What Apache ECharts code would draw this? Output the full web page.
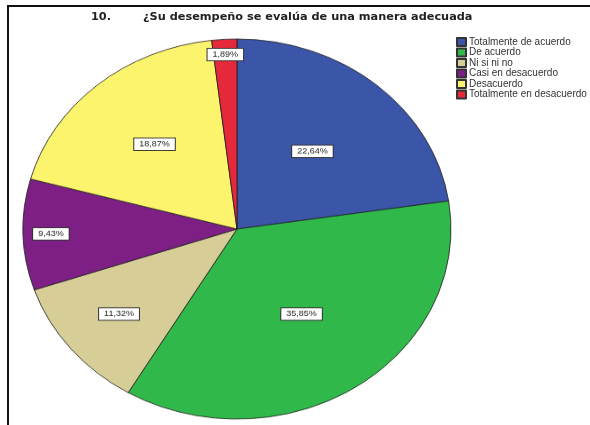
<!DOCTYPE html>
<html>
<head>
<meta charset="utf-8">
<script src="https://cdn.jsdelivr.net/npm/echarts@6/dist/echarts.min.js"></script>
<style>
  html, body { margin: 0; padding: 0; background: #fff; }
  #wrap { position: relative; width: 590px; height: 425px; overflow: hidden; }
  /* The pie is drawn as a circle and flattened vertically into an ellipse */
  #pie { position: absolute; left: 22px; top: 14px; width: 430px; height: 430px;
         transform: scaleY(0.888); transform-origin: 50% 50%; }
  #frame { position: absolute; left: 0; top: 0; width: 590px; height: 425px; }
</style>
</head>
<body>
<div id="wrap">
  <div id="pie"></div>
  <div id="frame"></div>
</div>
<script>
// Survey item 10: answer categories and their share of responses (%)
const categories = [
  'Totalmente de acuerdo',
  'De acuerdo',
  'Ni si ni no',
  'Casi en desacuerdo',
  'Desacuerdo',
  'Totalmente en desacuerdo'
];
const percents = [22.64, 35.85, 11.32, 9.43, 18.87, 1.89];
const colors = ['#3b55a8', '#30b94a', '#d7cd97', '#7d1f85', '#fcf46c', '#e5283a'];
const titleNumber = '10.';
const titleText = '¿Su desempeño se evalúa de una manera adecuada';

// how far out (fraction of radius) each slice's value label sits
const labelRadius = [0.54, 0.54, 0.71, 0.87, 0.59, 0.92];

const pieData = categories.map((name, i) => ({ name, value: percents[i] }));
const fmt = v => v.toFixed(2).replace('.', ',') + '%';

const PIE_SIZE = 430, PIE_R = 214;
const total = percents.reduce((a, b) => a + b, 0);
const midAngles = [];
let acc = 0;
percents.forEach(v => {
  const mid = acc + v / 2;
  midAngles.push(Math.PI / 2 - (mid / total) * 2 * Math.PI);
  acc += v;
});

const pieChart = echarts.init(document.getElementById('pie'), null, { renderer: 'canvas' });
pieChart.setOption({
  animation: false,
  color: colors,
  series: [{
    type: 'pie',
    center: ['50%', '50%'],
    radius: PIE_R,
    startAngle: 90,
    clockwise: true,
    silent: true,
    data: pieData,
    itemStyle: { borderColor: '#1e1e1e', borderWidth: 0.8 },
    label: {
      show: true,
      position: 'inside',
      formatter: p => fmt(p.value),
      fontFamily: 'Liberation Sans, Arial, sans-serif',
      fontSize: 9,
      color: '#222',
      backgroundColor: '#fff',
      borderColor: '#333',
      borderWidth: 1,
      padding: [2, 5]
    },
    labelLine: { show: false },
    labelLayout: p => {
      const a = midAngles[p.dataIndex];
      const f = labelRadius[p.dataIndex];
      return {
        x: PIE_SIZE / 2 + Math.cos(a) * PIE_R * f,
        y: PIE_SIZE / 2 - Math.sin(a) * PIE_R * f,
        align: 'center',
        verticalAlign: 'middle'
      };
    }
  }]
});

const titleFont = { fontFamily: 'DejaVu Sans, Verdana, sans-serif', fontSize: 11.3, fontWeight: 'bold', color: '#222' };

const frameChart = echarts.init(document.getElementById('frame'), null, { renderer: 'canvas' });
frameChart.setOption({
  animation: false,
  color: colors,
  title: [
    { text: titleNumber, left: 91, top: 12, padding: 0, textStyle: titleFont },
    { text: titleText, left: 143, top: 12, padding: 0, textStyle: titleFont }
  ],
  legend: {
    orient: 'vertical',
    left: 456,
    top: 37,
    padding: 0,
    itemWidth: 9,
    itemHeight: 8,
    itemGap: 0.5,
    icon: 'rect',
    selectedMode: false,
    textStyle: { fontFamily: 'Liberation Sans, Arial, sans-serif', fontSize: 10, color: '#333', padding: [0, 0, 0, -2] },
    data: categories
  },
  graphic: [{
    type: 'polyline',
    shape: { points: [[8, 425], [8, 6], [590, 6]] },
    style: { stroke: '#111', lineWidth: 2, fill: null }
  }],
  series: [{
    // zero-radius pie that only feeds the legend
    type: 'pie',
    radius: [0, 0],
    silent: true,
    data: pieData,
    itemStyle: { borderColor: '#333', borderWidth: 0.6 },
    label: { show: false },
    labelLine: { show: false }
  }]
});
</script>
</body>
</html>
